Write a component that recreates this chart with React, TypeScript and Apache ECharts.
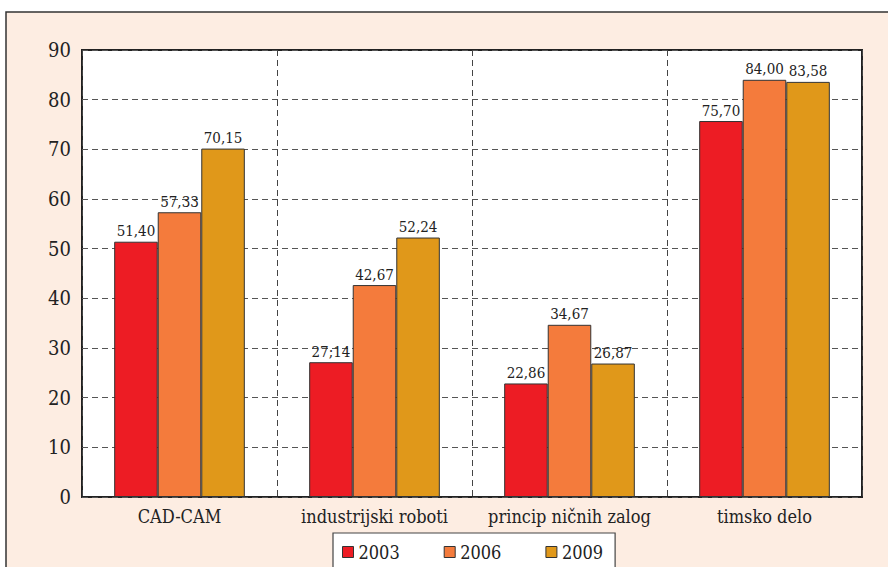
import React, { useEffect, useRef } from "react";
import * as echarts from "echarts";

const categories = ["CAD-CAM", "industrijski roboti", "princip ničnih zalog", "timsko delo"];
const seriesNames = ["2003", "2006", "2009"];
const values2003 = [51.4, 27.14, 22.86, 75.7];
const values2006 = [57.33, 42.67, 34.67, 84.0];
const values2009 = [70.15, 52.24, 26.87, 83.58];
const labels2003 = ["51,40", "27;14", "22,86", "75,70"];
const labels2006 = ["57,33", "42,67", "34,67", "84,00"];
const labels2009 = ["70,15", "52,24", "26,87", "83,58"];
const colors = ["#ED1C24", "#F47B3C", "#E0981A"];

const FONT = "DejaVu Serif Condensed";

export default function App() {
  const ref = useRef<HTMLDivElement>(null);
  useEffect(() => {
    if (!ref.current) return;
    const chart = echarts.init(ref.current, undefined, { renderer: "svg" });
    const vals = [values2003, values2006, values2009];
    const labs = [labels2003, labels2006, labels2009];
    chart.setOption({
      animation: false,
      backgroundColor: "#ffffff",
      textStyle: { fontFamily: FONT },
      graphic: [
        {
          type: "rect",
          z: -10,
          silent: true,
          shape: { x: 6, y: 12, width: 900, height: 600 },
          style: { fill: "#FDEDE2", stroke: "#333", lineWidth: 1.5 },
        },
      ],
      grid: {
        left: 82,
        top: 50,
        right: 26,
        bottom: 70,
        show: true,
        backgroundColor: "#ffffff",
        borderColor: "#222",
        borderWidth: 2,
        containLabel: false,
      },
      legend: {
        data: seriesNames,
        left: 333,
        top: 533,
        orient: "horizontal",
        icon: "rect",
        itemWidth: 11,
        itemHeight: 11,
        itemGap: 44,
        padding: [10, 12, 20, 9],
        backgroundColor: "#ffffff",
        borderColor: "#444",
        borderWidth: 1.2,
        textStyle: { fontFamily: FONT, fontSize: 18, color: "#222" },
        itemStyle: { borderColor: "#333", borderWidth: 1 },
      },
      xAxis: {
        type: "category",
        data: categories,
        axisLine: { show: false },
        axisTick: { show: false },
        axisLabel: { fontFamily: FONT, fontSize: 18, color: "#222", margin: 10, interval: 0 },
        splitLine: { show: true, interval: 0, lineStyle: { type: [6, 4], color: "#444", width: 1 } },
      },
      yAxis: {
        type: "value",
        min: 0,
        max: 90,
        interval: 10,
        axisLine: { show: false },
        axisTick: { show: false },
        axisLabel: { fontFamily: FONT, fontSize: 20, color: "#222", margin: 11 },
        splitLine: { show: true, lineStyle: { type: [6, 4], color: "#555", width: 1 } },
      },
      series: seriesNames.map((name, i) => ({
        name,
        type: "bar",
        data: vals[i],
        barGap: "0%",
        barCategoryGap: "33%",
        itemStyle: { color: colors[i], borderColor: "#333", borderWidth: 1 },
        label: {
          show: true,
          position: "top",
          distance: 3,
          fontFamily: FONT,
          fontSize: 15,
          color: "#222",
          formatter: (p: any) => labs[i][p.dataIndex],
        },
      })),
    });
    return () => chart.dispose();
  }, []);
  return (
    <div
      ref={ref}
      style={{ position: "fixed", left: 0, top: 0, width: 888, height: 567 }}
    />
  );
}
